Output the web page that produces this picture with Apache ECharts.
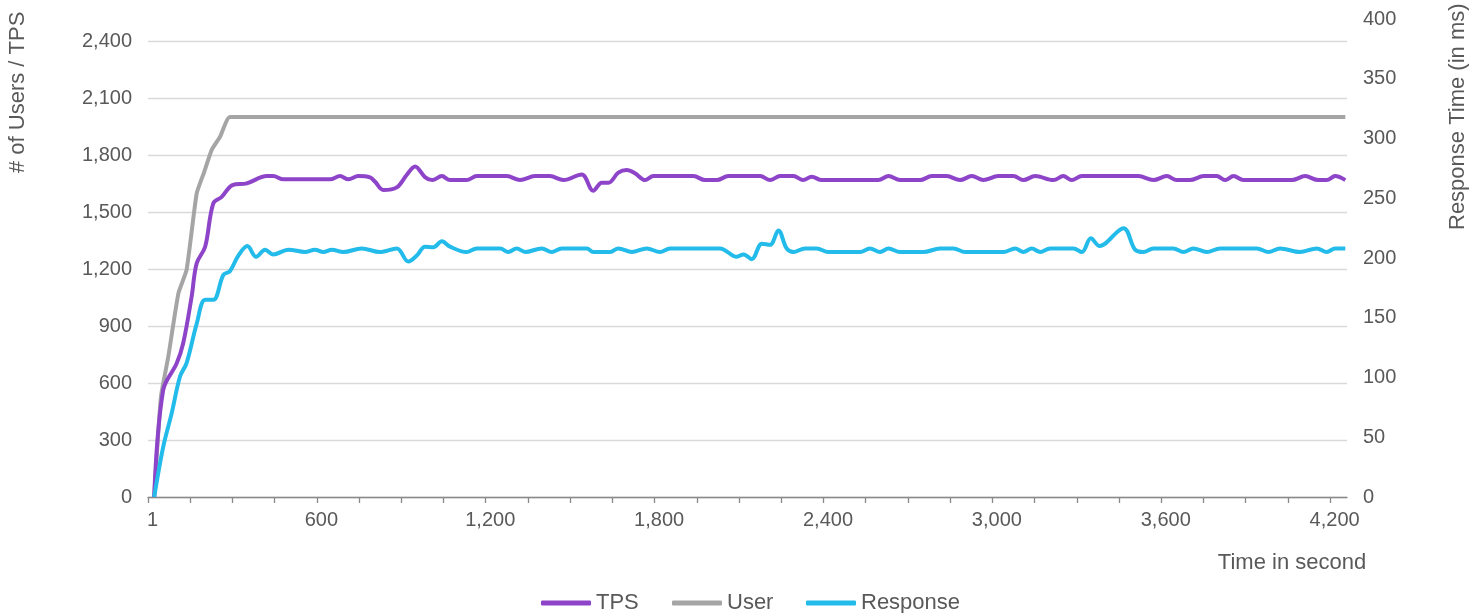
<!DOCTYPE html>
<html>
<head>
<meta charset="utf-8">
<script src="https://cdn.jsdelivr.net/npm/echarts@6/dist/echarts.min.js"></script>
<style>
html,body{margin:0;padding:0;background:#fff;}
#chart{width:1483px;height:613px;}
</style>
</head>
<body>
<div id="chart"></div>
<script>
// ---- data (time in seconds) ----
const userTime = [22, 46, 72, 108, 137, 173, 200, 226, 256, 291, 600, 4254];
const userValues = [0, 528, 738, 1072, 1195, 1598, 1712, 1826, 1896, 2000, 2000, 2000];

const tpsTime = [22, 54, 102, 125, 155, 173, 203, 232, 262, 300, 351, 422, 445, 481, 647, 682, 712, 747, 789, 807, 836, 884, 919, 949, 984, 1010, 1044, 1073, 1132, 1168, 1275, 1322, 1375, 1428, 1476, 1541, 1582, 1612, 1636, 1671, 1701, 1730, 1766, 1796, 1938, 1979, 2021, 2062, 2175, 2210, 2246, 2293, 2328, 2358, 2394, 2595, 2631, 2672, 2743, 2785, 2838, 2885, 2927, 2968, 3021, 3075, 3110, 3152, 3217, 3252, 3282, 3318, 3519, 3572, 3620, 3655, 3702, 3751, 3797, 3827, 3857, 3892, 4064, 4111, 4158, 4188, 4218, 4254];
const tpsValues = [0, 563, 704, 809, 1054, 1230, 1317, 1546, 1580, 1642, 1651, 1689, 1689, 1672, 1672, 1689, 1672, 1689, 1682, 1659, 1616, 1630, 1695, 1740, 1684, 1668, 1689, 1668, 1668, 1689, 1689, 1668, 1689, 1689, 1668, 1698, 1612, 1654, 1654, 1707, 1721, 1704, 1668, 1689, 1689, 1668, 1668, 1689, 1689, 1668, 1689, 1689, 1668, 1686, 1668, 1668, 1689, 1668, 1668, 1689, 1689, 1668, 1689, 1668, 1689, 1689, 1668, 1689, 1668, 1689, 1668, 1689, 1689, 1668, 1689, 1668, 1668, 1689, 1689, 1668, 1689, 1668, 1668, 1689, 1668, 1668, 1689, 1668];

const respTime = [22, 54, 84, 114, 137, 173, 203, 232, 268, 291, 321, 353, 384, 416, 445, 499, 558, 593, 623, 653, 694, 759, 824, 884, 925, 955, 984, 1014, 1044, 1073, 1132, 1168, 1251, 1280, 1310, 1340, 1399, 1434, 1470, 1559, 1582, 1642, 1671, 1719, 1772, 1819, 1855, 2032, 2092, 2116, 2145, 2181, 2210, 2240, 2269, 2293, 2334, 2376, 2417, 2530, 2565, 2601, 2631, 2672, 2755, 2814, 2862, 2903, 3039, 3081, 3110, 3140, 3170, 3205, 3288, 3318, 3350, 3381, 3466, 3507, 3537, 3572, 3643, 3679, 3714, 3762, 3809, 3940, 3981, 4022, 4093, 4153, 4188, 4218, 4254];
const respValues = [0, 42, 70, 101, 112, 145, 165, 165, 186, 189, 202, 210, 201, 207, 203, 207, 205, 207, 205, 207, 205, 208, 205, 208, 197, 202, 209.5, 209, 214, 209.5, 205, 208, 208, 205, 208, 205, 208, 205, 208, 208, 205, 205, 208, 205, 208, 205, 208, 208, 201, 203, 199, 212, 211, 223, 208, 205, 208, 208, 205, 205, 208, 205, 208, 205, 205, 208, 208, 205, 205, 208, 205, 208, 205, 208, 208, 205, 216.5, 210, 225, 207, 205, 208, 208, 205, 208, 205, 208, 208, 205, 208, 205, 208, 205, 208, 208];

const xTickValues = [0,150,300,450,600,750,900,1050,1200,1350,1500,1650,1800,1950,2100,2250,2400,2550,2700,2850,3000,3150,3300,3450,3600,3750,3900,4050,4200];
const xLabelValues = [0, 600, 1200, 1800, 2400, 3000, 3600, 4200];
const xLabelTexts = ['1', '600', '1,200', '1,800', '2,400', '3,000', '3,600', '4,200'];

const seriesNames = ['TPS', 'User', 'Response'];
const seriesColors = ['#8E44C9', '#A5A5A5', '#22BBEA'];

function zip(a, b) { return a.map((t, i) => [t, b[i]]); }

const LABEL_SHIFT = 16;
const FONT = 'Liberation Sans, Arial, sans-serif';
const TXT = '#595959';

const legendLefts = [541, 672, 806];
const legends = seriesNames.map((n, i) => ({
  data: [n],
  left: legendLefts[i], top: 592, padding: 0,
  itemWidth: 50, itemHeight: 5,
  icon: 'roundRect',
  textStyle: {fontSize: 22, color: TXT, fontFamily: FONT}
}));

const chart = echarts.init(document.getElementById('chart'), null, {renderer: 'canvas'});
chart.setOption({
  animation: false,
  backgroundColor: '#ffffff',
  textStyle: {fontFamily: FONT},
  grid: {left: 148, right: 136, top: 19, bottom: 116, containLabel: false},
  legend: legends,
  xAxis: {
    type: 'value', min: 0, max: 4260,
    axisLine: {show: true, lineStyle: {color: '#898989', width: 1.3}},
    axisTick: {show: true, length: 6, lineStyle: {color: '#898989', width: 1.3}, customValues: xTickValues},
    axisLabel: {
      show: true, margin: 13, fontSize: 20, color: TXT, fontFamily: FONT,
      customValues: xLabelValues.map(v => v + LABEL_SHIFT),
      formatter: function (v) {
        const idx = xLabelValues.indexOf(Math.round((v - LABEL_SHIFT) / 600) * 600);
        return idx >= 0 ? xLabelTexts[idx] : '';
      }
    },
    splitLine: {show: false}
  },
  yAxis: [{
    type: 'value', min: 0, max: 2516, interval: 300,
    axisLine: {show: false}, axisTick: {show: false},
    axisLabel: {
      fontSize: 20, color: TXT, margin: 16, showMaxLabel: false, fontFamily: FONT,
      formatter: v => v.toLocaleString('en-US')
    },
    splitLine: {show: true, showMaxLine: false, lineStyle: {color: '#D9D9D9', width: 1.3}}
  }, {
    type: 'value', min: 0, max: 400, interval: 50, position: 'right',
    axisLine: {show: false}, axisTick: {show: false},
    axisLabel: {fontSize: 20, color: TXT, margin: 16, fontFamily: FONT},
    splitLine: {show: false}
  }],
  graphic: [
    {type: 'text', x: 18, y: 173, rotation: Math.PI / 2,
     style: {text: '# of Users / TPS', fill: TXT, font: '22px ' + FONT, align: 'left', verticalAlign: 'middle'}},
    {type: 'text', x: 1458, y: 230, rotation: Math.PI / 2,
     style: {text: 'Response Time (in ms)', fill: TXT, font: '22px ' + FONT, align: 'left', verticalAlign: 'middle'}},
    {type: 'text', x: 1292, y: 563,
     style: {text: 'Time in second', fill: TXT, font: '22px ' + FONT, align: 'center', verticalAlign: 'middle'}}
  ],
  series: [{
    name: 'TPS', type: 'line', yAxisIndex: 0, data: zip(tpsTime, tpsValues),
    smooth: 0.35, showSymbol: false, symbol: 'none', z: 3,
    lineStyle: {color: seriesColors[0], width: 4}, itemStyle: {color: seriesColors[0]}
  }, {
    name: 'User', type: 'line', yAxisIndex: 0, data: zip(userTime, userValues),
    smooth: 0.15, showSymbol: false, symbol: 'none', z: 2,
    lineStyle: {color: seriesColors[1], width: 4}, itemStyle: {color: seriesColors[1]}
  }, {
    name: 'Response', type: 'line', yAxisIndex: 1, data: zip(respTime, respValues),
    smooth: 0.35, showSymbol: false, symbol: 'none', z: 4,
    lineStyle: {color: seriesColors[2], width: 4}, itemStyle: {color: seriesColors[2]}
  }]
});
</script>
</body>
</html>
